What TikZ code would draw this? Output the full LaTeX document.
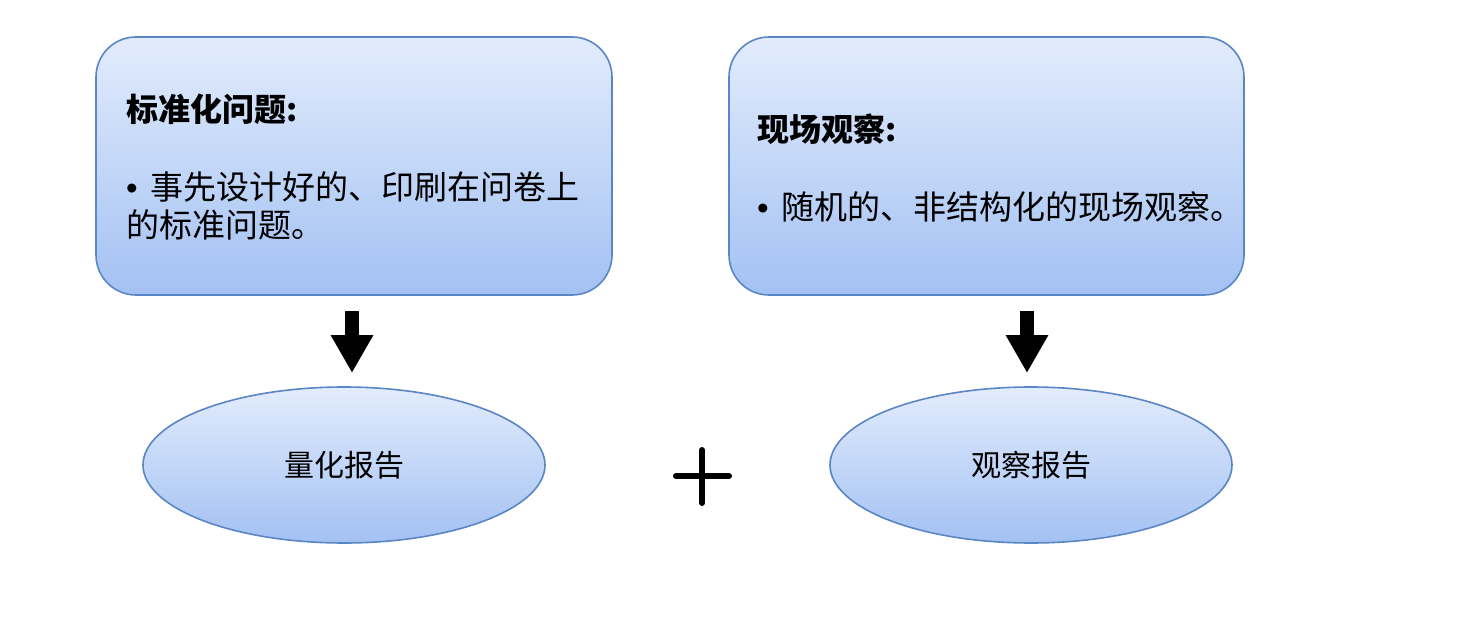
\documentclass[tikz,border=0pt]{standalone}
\usepackage{fontspec}
\setmainfont{Noto Sans CJK SC}
\newfontfamily\latinfont{Liberation Sans}
\usetikzlibrary{shapes.geometric,arrows.meta}
\definecolor{edgeblue}{HTML}{5A86C4}
\definecolor{topblue}{HTML}{E2ECFC}
\definecolor{botblue}{HTML}{A3C1F3}
\newcommand{\bul}{{\latinfont •}\hspace{13pt}}
\tikzset{
  card/.style={draw=edgeblue, line width=1.6pt, rounded corners=40pt, top color=topblue, bottom color=botblue},
  oval/.style={ellipse, draw=edgeblue, line width=1.6pt, top color=topblue, bottom color=botblue, minimum width=402pt, minimum height=156pt, inner sep=0pt, font=\fontsize{30}{36}\selectfont},
  txt/.style={anchor=north west, align=left, inner sep=0pt, font=\fontsize{32}{38}\selectfont},
  bultxt/.style={anchor=north west, align=left, inner sep=0pt, font=\fontsize{33}{38}\selectfont},
  bigarrow/.style={-{Triangle[length=38pt,width=40pt]}, line width=14pt},
  plusline/.style={line width=6pt, line cap=round}
}
\begin{document}
\begin{tikzpicture}[x=1pt,y=-1pt]
\useasboundingbox (0,0) rectangle (1457,637);
\fill[white] (0,0) rectangle (1457,637);
% boxes
\draw[card] (96,37) rectangle (612,295);
\node (b1) at (354,166) {};
\draw[card] (729,37) rectangle (1244,295);
\node (b2) at (986,166) {};
\node[txt] (t1) at (126,94) {\textbf{标准化问题:}};
\node[bultxt] (t1b) at (126,171) {\bul 事先设计好的、印刷在问卷上\\的标准问题。};
\node[txt] (t2) at (757,114) {\textbf{现场观察:}};
\node[bultxt] (t2b) at (757,191) {\bul 随机的、非结构化的现场观察。};
% ellipses
\node[oval] (e1) at (344,465) {量化报告};
\node[oval] (e2) at (1031,465) {观察报告};
% arrows
\coordinate (a1s) at (352,311);
\coordinate (a1e) at (352,373);
\coordinate (a2s) at (1027,311);
\coordinate (a2e) at (1027,373);
\draw[bigarrow] (a1s) -- (a1e);
\draw[bigarrow] (a2s) -- (a2e);
% plus
\coordinate (pl) at (676,476);
\coordinate (pr) at (729,476);
\coordinate (pt) at (702,450);
\coordinate (pb) at (702,503);
\draw[plusline] (pl) -- (pr);
\draw[plusline] (pt) -- (pb);
\end{tikzpicture}
\end{document}
